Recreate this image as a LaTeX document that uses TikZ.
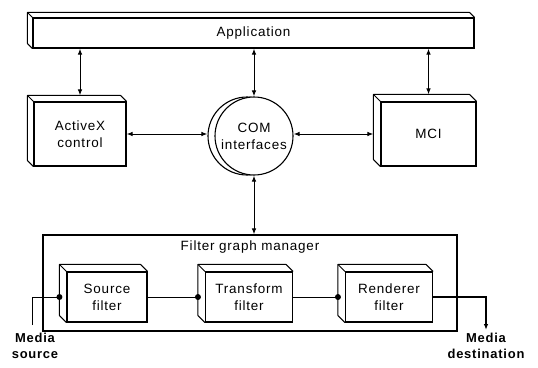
\documentclass[tikz,border=0pt]{standalone}
\usepackage{fontspec}
\setmainfont{Liberation Sans}[LetterSpace=6]
\usetikzlibrary{shapes,arrows,arrows.meta,positioning}

\begin{document}
\begin{tikzpicture}[x=1bp, y=-1bp, align=center, >={Latex[length=6bp,width=4.5bp]}
                   , font=\fontsize{13.5}{17}\selectfont]
    \tikzset{
        n/.style        =   { rectangle
                            , draw=black
                            , fill=white
                            , line width=1.1bp
                            , inner sep=0pt
        }
        , arrow/.style  =   { line width=1bp
                            , <->
        }
        , face/.style   =   { line width=1bp
                            , line join=round
        }
        , wire/.style   =   { line width=1bp
        }
        , dot/.style    =   { circle
                            , fill=black
                            , inner sep=0pt
                            , minimum size=6bp
        }
        , lbl/.style    =   { font=\fontsize{13}{15.5}\selectfont\bfseries
                            , inner sep=1bp
        }
    }
    \useasboundingbox (0,0) rectangle (538,367);

    % top row
    \node(app)[n, minimum width=441bp, minimum height=30bp] at (253.5,33) {Application};
    \node(ax)[n, minimum width=92bp, minimum height=64bp]   at (80,134)    {ActiveX\\control};
    \node(mci)[n, minimum width=95bp, minimum height=64bp]  at (428.5,134) {MCI};
    \node(comb)[n, circle, minimum size=78bp]               at (247,136)   {};
    \node(com)[n, circle, minimum size=78bp]                at (254,136)   {COM\\interfaces};

    % filter graph
    \node(fgm)[n, fill=none, minimum width=414bp, minimum height=96bp] at (250,283) {};
    \node(fgml)[below=3bp of fgm.north] {Filter graph manager};
    \node(src)[n, minimum width=80bp, minimum height=50bp] at (107,297) {Source\\filter};
    \node(tf)[n, minimum width=87bp, minimum height=50bp]  at (249,297) {Transform\\filter};
    \node(rnd)[n, minimum width=87bp, minimum height=50bp] at (389,297) {Renderer\\filter};

    \foreach \b/\dd in {app/5, ax/6, mci/7, src/7, tf/7, rnd/7}{
        \draw[face] (\b.north east) -- ++(-\dd,-\dd)
            -- ([shift={(-\dd,-\dd)}]\b.north west)
            -- ([shift={(-\dd,-\dd)}]\b.south west) -- (\b.south west);
        \draw[face] (\b.north west) -- ++(-\dd,-\dd);
    }

    \draw[arrow] (app.south -| ax.north)  -- ([yshift=6bp]ax.north);
    \draw[arrow] (app.south -| com.north) -- (com.north);
    \draw[arrow] (app.south -| mci.north) -- ([yshift=7bp]mci.north);
    \draw[arrow] (ax.east) -- (ax.east -| comb.west);
    \draw[arrow] (com.east |- mci.west) -- ([xshift=-7bp]mci.west);
    \draw[arrow] (com.south) -- (com.south |- fgm.north);

    % media path
    \coordinate(msrc) at (32,325);
    \coordinate(mdst) at (486,330);
    \draw[wire] (msrc) |- ([xshift=-7bp]src.west) node[dot]{};
    \draw[wire] (src.east) -- ([xshift=-7bp]tf.west) node[dot]{};
    \draw[wire] (tf.east) -- ([xshift=-7bp]rnd.west) node[dot]{};
    \draw[wire, line width=1.6bp, ->] (rnd.east) -| (mdst);

    \node(msrcl)[lbl, below=7bp of msrc, xshift=3bp] {Media\\source};
    \node(mdstl)[lbl, below=2bp of mdst] {Media\\destination};
\end{tikzpicture}
\end{document}
